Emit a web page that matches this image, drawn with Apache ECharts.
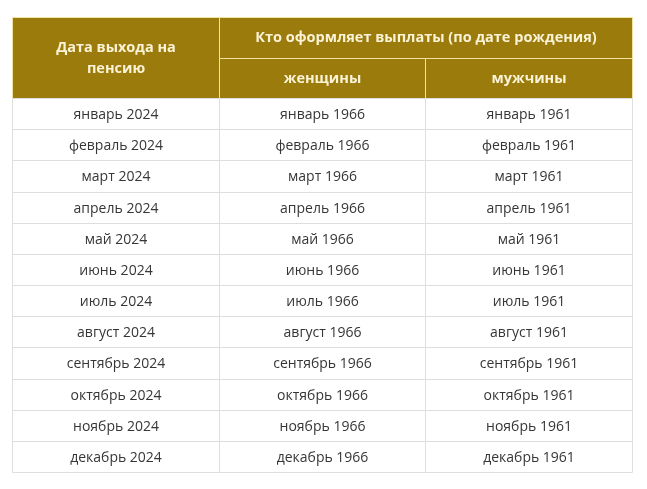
<!DOCTYPE html>
<html>
<head>
<meta charset="utf-8">
<script src="https://cdn.jsdelivr.net/npm/echarts@6/dist/echarts.min.js"></script>
<style>
  html, body { margin: 0; padding: 0; background: #fff; }
  #chart { width: 647px; height: 489px; }
</style>
</head>
<body>
<div id="chart"></div>
<script>
// table contents
const months = ['январь', 'февраль', 'март', 'апрель', 'май', 'июнь', 'июль', 'август', 'сентябрь', 'октябрь', 'ноябрь', 'декабрь']
const retireYear = 2024
const womenYear = 1966
const menYear = 1961
const headMain = 'Дата выхода на\nпенсию'
const headGroup = 'Кто оформляет выплаты (по дате рождения)'
const headCols = ['женщины', 'мужчины']

const HEAD_ROW = 1.3 // header row height in body-row units
const bodyTop = HEAD_ROW * 2

// [col, row, colSpan, rowSpan, text, kind]
const cells = [
  [0, 0, 1, bodyTop, headMain, 'h'],
  [1, 0, 2, HEAD_ROW, headGroup, 'h'],
  [1, HEAD_ROW, 1, HEAD_ROW, headCols[0], 'h'],
  [2, HEAD_ROW, 1, HEAD_ROW, headCols[1], 'h']
]
months.forEach((m, i) => {
  cells.push([0, bodyTop + i, 1, 1, m + ' ' + retireYear, 'b'])
  cells.push([1, bodyTop + i, 1, 1, m + ' ' + womenYear, 'b'])
  cells.push([2, bodyTop + i, 1, 1, m + ' ' + menYear, 'b'])
})

const chart = echarts.init(document.getElementById('chart'))

const renderCell = (params, api) => {
  const c = api.value(0), r = api.value(1)
  const cw = api.value(2), rh = api.value(3)
  const item = cells[params.dataIndex]
  const p0 = api.coord([c, r])
  const p1 = api.coord([c + cw, r + rh])
  const x = Math.round(p0[0]) + 0.5, y = Math.round(p0[1]) + 0.5
  const w = Math.round(p1[0]) - Math.round(p0[0])
  const h = Math.round(p1[1]) - Math.round(p0[1])
  const head = item[5] === 'h'
  return {
    type: 'group',
    children: [
      {
        type: 'rect',
        shape: { x, y, width: w, height: h },
        style: {
          fill: head ? '#9a7b0b' : '#ffffff',
          stroke: head ? '#f3e3a2' : '#dedede',
          lineWidth: 1
        }
      },
      {
        type: 'text',
        x: x + w / 2,
        y: y + h / 2 + (head ? 0 : 1),
        style: {
          text: item[4],
          align: 'center',
          verticalAlign: 'middle',
          fill: head ? '#fbf3d6' : '#363636',
          font: (head ? 'bold 14.5px' : '14px') + ' "Open Sans", sans-serif',
          lineHeight: 21
        }
      }
    ]
  }
}

chart.setOption({
  animation: false,
  grid: { left: 12, right: 15, top: 17, bottom: 17 },
  xAxis: { type: 'value', min: 0, max: 3, show: false },
  yAxis: { type: 'value', min: 0, max: bodyTop + months.length, inverse: true, show: false },
  series: [
    {
      type: 'custom',
      renderItem: renderCell,
      encode: { x: 0, y: 1 },
      data: cells.map(d => d.slice(0, 4)),
      silent: true
    }
  ]
})
</script>
</body>
</html>
